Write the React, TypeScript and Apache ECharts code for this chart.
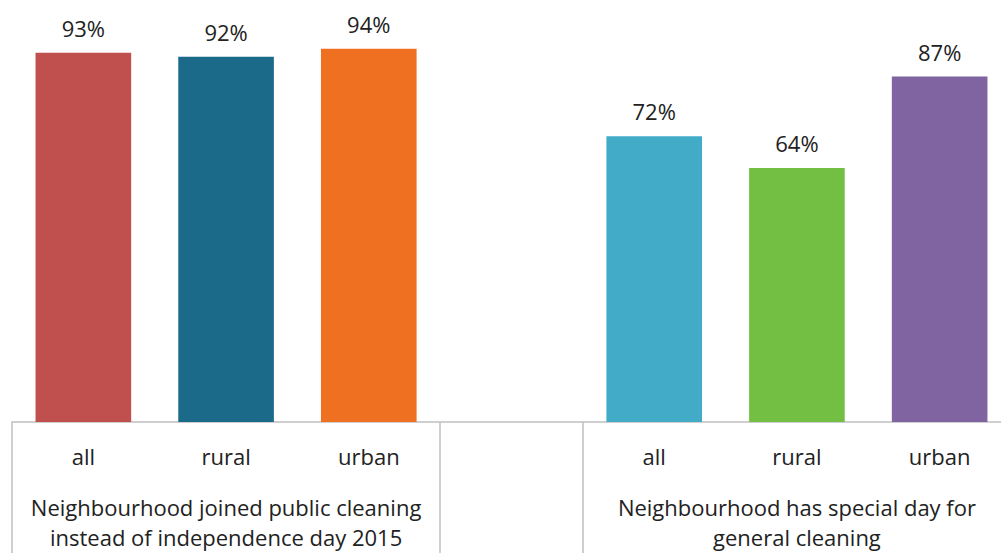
import React, { useEffect, useRef } from "react";
import * as echarts from "echarts";

const categories = ["all", "rural", "urban", "", "all", "rural", "urban"];
const values: (number | null)[] = [93, 92, 94, null, 72, 64, 87];
const groupLabels = [
  "",
  "Neighbourhood joined public cleaning\ninstead of independence day 2015",
  "",
  "",
  "",
  "Neighbourhood has special day for\ngeneral cleaning",
  "",
];
const palette = ["#C0504D", "#1B6A8A", "#F07022", "#FFFFFF", "#42ACC8", "#72BF44", "#8064A2"];

const FONT = "'Open Sans', 'Noto Sans', sans-serif";

export default function App() {
  const ref = useRef<HTMLDivElement>(null);
  useEffect(() => {
    if (!ref.current) return;
    const chart = echarts.init(ref.current, undefined, { renderer: "svg" });
    chart.setOption({
      animation: false,
      grid: {
        left: 12,
        width: 999,
        top: 25,
        bottom: 131,
        containLabel: false,
        outerBoundsMode: "none",
      },
      xAxis: [
        {
          type: "category",
          data: categories,
          position: "bottom",
          axisLine: { show: true, lineStyle: { color: "#BFBFBF", width: 1.5 } },
          axisTick: {
            show: true,
            length: 135,
            alignWithLabel: false,
            interval: (i: number) => i === 0 || i === 3 || i === 4,
            lineStyle: { color: "#BFBFBF", width: 1.5 },
          },
          axisLabel: {
            interval: 0,
            margin: 23,
            fontSize: 22,
            color: "#222",
            fontFamily: FONT,
          },
        },
        {
          type: "category",
          data: groupLabels,
          position: "bottom",
          gridIndex: 0,
          axisLine: { show: false },
          axisTick: { show: false },
          axisLabel: {
            interval: 0,
            margin: 70,
            fontSize: 22,
            lineHeight: 30,
            color: "#222",
            fontFamily: FONT,
            verticalAlign: "top",
          },
        },
      ],
      yAxis: {
        type: "value",
        min: 0,
        max: 100,
        show: false,
        splitLine: { show: false },
      },
      series: [
        {
          type: "bar",
          xAxisIndex: 0,
          barWidth: "67%",
          data: values.map((v, i) => ({ value: v, itemStyle: { color: palette[i] } })),
          label: {
            show: true,
            position: "top",
            distance: 14,
            fontSize: 22,
            color: "#222",
            fontFamily: FONT,
            formatter: (p: any) => (p.value == null ? "" : p.value + "%"),
          },
        },
      ],
    });
    return () => chart.dispose();
  }, []);
  return (
    <div
      ref={ref}
      style={{ position: "fixed", left: 0, top: 0, width: 1001, height: 553, background: "#fff" }}
    />
  );
}
